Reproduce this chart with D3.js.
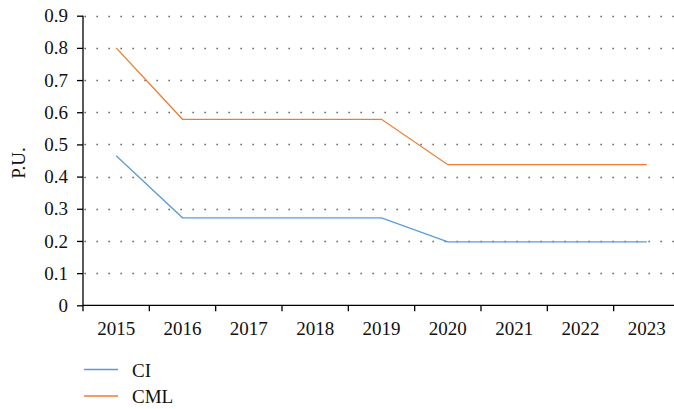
<!DOCTYPE html>
<html>
<head>
<meta charset="utf-8">
<script src="https://cdn.jsdelivr.net/npm/d3@7"></script>
<style>
  body { margin: 0; background: #fff; }
  svg { display: block; font-family: "Liberation Serif", "DejaVu Serif", serif; }
</style>
</head>
<body>
<div id="chart"></div>
<script>
  var years = ["2015", "2016", "2017", "2018", "2019", "2020", "2021", "2022", "2023"];
  var ciValues  = [0.465, 0.272, 0.272, 0.272, 0.272, 0.197, 0.197, 0.197, 0.197];
  var cmlValues = [0.800, 0.578, 0.578, 0.578, 0.578, 0.437, 0.437, 0.437, 0.437];
  var yTicks = [0, 0.1, 0.2, 0.3, 0.4, 0.5, 0.6, 0.7, 0.8, 0.9];

  var series = [
    { name: "CI",  values: ciValues,  color: "#5b9bd5" },
    { name: "CML", values: cmlValues, color: "#ed7d31" }
  ];

  var width = 674;
  var height = 409;
  var plotLeft = 83, plotRight = 680, plotTop = 15.7, plotBottom = 305.3;

  var svg = d3.select('#chart')
    .append('svg')
    .attr('width', width)
    .attr('height', height);

  var x = d3.scaleBand()
    .domain(years)
    .range([plotLeft, plotRight]);

  var y = d3.scaleLinear()
    .domain([0, 0.9])
    .range([plotBottom, plotTop]);

  // dotted gridlines
  svg.append('g')
    .selectAll('line')
    .data(yTicks.slice(1))
    .enter()
    .append('line')
    .attr('x1', plotLeft + 1)
    .attr('x2', width)
    .attr('y1', function(d) { return Math.round(y(d)) + 0.5; })
    .attr('y2', function(d) { return Math.round(y(d)) + 0.5; })
    .attr('stroke', '#444')
    .attr('stroke-width', 1.3)
    .attr('stroke-dasharray', '1.3,10.7')
    .attr('stroke-dashoffset', -12.5);

  // y axis
  var yAxis = svg.append('g')
    .attr('transform', 'translate(' + plotLeft + ',0)')
    .call(d3.axisLeft(y).tickValues(yTicks).tickSize(6).tickPadding(9)
      .tickFormat(function(d) { return d === 0 ? "0" : d3.format(".1f")(d); }));

  // x axis
  var xAxis = svg.append('g')
    .attr('transform', 'translate(0,' + plotBottom + ')')
    .call(d3.axisBottom(x).tickSize(0).tickPadding(16));

  // x ticks at band boundaries
  xAxis.selectAll('.bound')
    .data(years)
    .enter()
    .append('line')
    .attr('class', 'bound')
    .attr('x1', function(d) { return x(d); })
    .attr('x2', function(d) { return x(d); })
    .attr('y1', 0)
    .attr('y2', 6)
    .attr('stroke', '#000')
    .attr('stroke-width', 1.3);

  [yAxis, xAxis].forEach(function(a) {
    a.select('.domain').attr('stroke', '#000').attr('stroke-width', 1.3);
    a.selectAll('.tick line').attr('stroke', '#000').attr('stroke-width', 1.3);
    a.selectAll('text')
      .attr('font-family', '"Liberation Serif", serif')
      .attr('font-size', 19)
      .attr('fill', '#111');
  });
  yAxis.select('.domain').attr('d', 'M0,' + plotBottom + 'V' + plotTop);
  xAxis.select('.domain').attr('d', 'M' + plotLeft + ',0H' + width);

  // y label
  svg.append('text')
    .attr('transform', 'translate(25,163) rotate(-90)')
    .attr('text-anchor', 'middle')
    .attr('font-size', 19)
    .attr('fill', '#111')
    .text('P.U.');

  // lines
  var line = d3.line()
    .x(function(d, i) { return x(years[i]) + x.bandwidth() / 2; })
    .y(function(d) { return y(d); });

  svg.selectAll('path.series')
    .data(series)
    .enter()
    .append('path')
    .attr('class', 'series')
    .attr('d', function(d) { return line(d.values); })
    .attr('fill', 'none')
    .attr('stroke', function(d) { return d.color; })
    .attr('stroke-width', 1.3);

  // legend
  var legend = svg.selectAll('g.legend')
    .data(series)
    .enter()
    .append('g')
    .attr('class', 'legend')
    .attr('transform', function(d, i) { return 'translate(84,' + (369.5 + i * 26.5) + ')'; });

  legend.append('line')
    .attr('x1', 0)
    .attr('x2', 34)
    .attr('stroke', function(d) { return d.color; })
    .attr('stroke-width', 1.3);

  legend.append('text')
    .attr('x', 48)
    .attr('y', 7)
    .attr('font-size', 19)
    .attr('fill', '#111')
    .text(function(d) { return d.name; });
</script>
</body>
</html>
